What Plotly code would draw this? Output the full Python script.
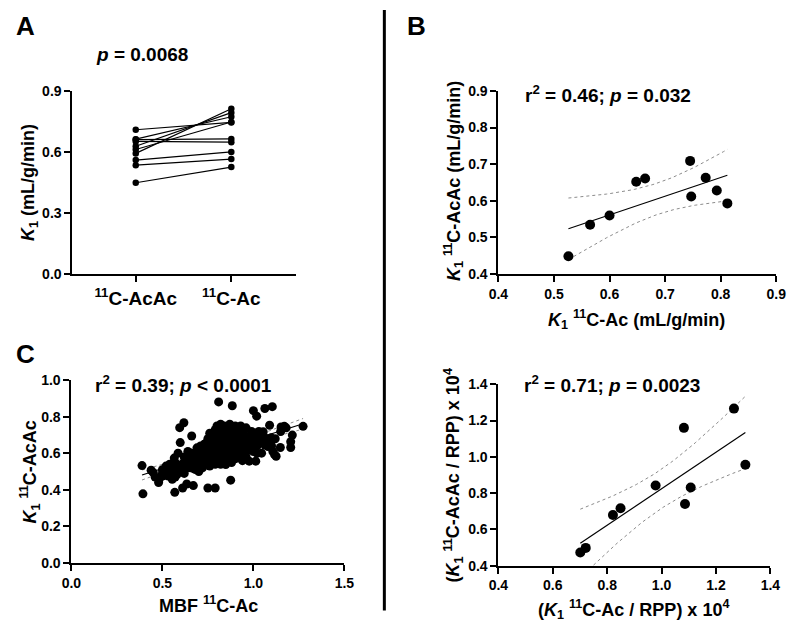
import numpy as np
import plotly.graph_objects as go

FONT = "Liberation Sans, Arial, sans-serif"
W, H = 796, 638

# panel A / B : paired K1 values (same 10 subjects)
k1_ac = [0.526, 0.565, 0.600, 0.648, 0.664, 0.745, 0.747, 0.773, 0.793, 0.812]
k1_acac = [0.449, 0.535, 0.560, 0.652, 0.661, 0.709, 0.612, 0.663, 0.628, 0.593]
cat_labels = ["<sup>11</sup>C-AcAc", "<sup>11</sup>C-Ac"]

# panel C : MBF 11C-Ac vs K1 11C-AcAc (all segments)
mbf_ac = [0.388, 0.393, 0.438, 0.450, 0.479, 0.482, 0.500, 0.518, 0.532, 0.536,
          0.554, 0.562, 0.565, 0.568, 0.581, 0.586, 0.589, 0.595, 0.598, 0.607,
          0.611, 0.616, 0.618, 0.634, 0.634, 0.643, 0.661, 0.661, 0.670, 0.670,
          0.679, 0.700, 0.705, 0.714, 0.732, 0.738, 0.750, 0.750, 0.768, 0.768,
          0.773, 0.786, 0.790, 0.809, 0.812, 0.820, 0.848, 0.875, 0.884, 1.000,
          1.018, 1.063, 1.104, 1.089, 1.152, 1.170, 1.273, 1.214, 1.205, 1.205,
          1.148, 1.116, 1.125, 1.107, 1.098, 1.045, 1.013, 0.977, 1.054, 1.071,
          1.027, 1.063, 1.080,
          0.46, 0.50, 0.53, 0.55, 0.57, 0.59, 0.60, 0.62, 0.63, 0.65,
          0.66, 0.68, 0.69, 0.72, 0.73, 0.74, 0.76, 0.77, 0.78, 0.79,
          0.80, 0.80, 0.81, 0.82, 0.82, 0.83, 0.83, 0.84, 0.84, 0.85,
          0.85, 0.86, 0.86, 0.87, 0.87, 0.88, 0.88, 0.89, 0.89, 0.90,
          0.90, 0.91, 0.91, 0.92, 0.92, 0.93, 0.93, 0.94, 0.94, 0.95,
          0.95, 0.96, 0.96, 0.97, 0.97, 0.98, 0.99, 0.99, 1.00, 1.01,
          1.02, 1.03, 1.04, 0.82, 0.85, 0.88, 0.80, 0.76, 0.73, 0.71,
          0.69, 0.75, 0.78, 0.80, 0.84, 0.87, 0.90, 0.93, 0.95, 0.86,
          0.83, 0.78, 0.81, 0.84, 0.87, 0.90, 0.92, 0.94, 0.96, 0.98,
          1.00, 1.02, 1.05, 1.08, 1.10, 1.12, 1.15, 1.18, 0.64, 0.62,
          0.66, 0.58, 0.56, 0.54, 0.52, 0.50, 0.70, 0.72, 0.74, 0.77,
          0.79, 0.76, 0.79, 0.82]
k1_acac_c = [0.533, 0.378, 0.507, 0.494, 0.440, 0.458, 0.476, 0.494, 0.476, 0.521,
             0.458, 0.515, 0.574, 0.386, 0.485, 0.601, 0.530, 0.741, 0.659, 0.503,
             0.410, 0.548, 0.768, 0.432, 0.574, 0.521, 0.695, 0.601, 0.423, 0.557,
             0.512, 0.614, 0.574, 0.530, 0.584, 0.655, 0.548, 0.410, 0.664, 0.593,
             0.705, 0.566, 0.410, 0.882, 0.593, 0.735, 0.539, 0.453, 0.861, 0.834,
             0.804, 0.846, 0.856, 0.754, 0.745, 0.748, 0.748, 0.700, 0.664, 0.632,
             0.632, 0.593, 0.584, 0.610, 0.685, 0.601, 0.557, 0.557, 0.718, 0.682,
             0.664, 0.646, 0.637,
             0.47, 0.51, 0.50, 0.49, 0.47, 0.50, 0.52, 0.49, 0.55, 0.54,
             0.58, 0.59, 0.55, 0.56, 0.61, 0.60, 0.62, 0.57, 0.64, 0.60,
             0.62, 0.68, 0.70, 0.63, 0.72, 0.66, 0.60, 0.58, 0.69, 0.64,
             0.72, 0.62, 0.67, 0.70, 0.58, 0.74, 0.65, 0.61, 0.69, 0.72,
             0.57, 0.66, 0.63, 0.74, 0.69, 0.60, 0.65, 0.72, 0.67, 0.62,
             0.70, 0.74, 0.58, 0.65, 0.69, 0.62, 0.72, 0.66, 0.61, 0.69,
             0.64, 0.72, 0.67, 0.54, 0.56, 0.55, 0.56, 0.53, 0.65, 0.64,
             0.63, 0.68, 0.70, 0.75, 0.75, 0.76, 0.75, 0.75, 0.73, 0.73,
             0.70, 0.67, 0.65, 0.61, 0.64, 0.61, 0.58, 0.56, 0.61, 0.68,
             0.64, 0.60, 0.70, 0.66, 0.64, 0.68, 0.72, 0.74, 0.61, 0.58,
             0.52, 0.54, 0.52, 0.54, 0.53, 0.49, 0.50, 0.52, 0.57, 0.59,
             0.54, 0.71, 0.73, 0.76]

# panel D : K1 normalised by rate-pressure product (x 10^4)
k1_ac_rpp = [0.701, 0.721, 0.821, 0.849, 0.978, 1.082, 1.086, 1.107, 1.266, 1.308]
k1_acac_rpp = [0.473, 0.498, 0.679, 0.717, 0.842, 1.160, 0.740, 0.831, 1.266, 0.956]


def fit_with_ci(x, y, t):
    x = np.asarray(x, float)
    y = np.asarray(y, float)
    m, b = np.polyfit(x, y, 1)
    n = len(x)
    s = np.sqrt(np.sum((y - (m * x + b)) ** 2) / (n - 2))
    xs = np.linspace(x.min(), x.max(), 80)
    se = s * np.sqrt(1 / n + (xs - x.mean()) ** 2 / np.sum((x - x.mean()) ** 2))
    yf = m * xs + b
    return xs, yf, yf - t * se, yf + t * se


def dx(p):
    return p / W


def dy(p):
    return 1 - p / H


fig = go.Figure()

# ---- A : paired lines
for a, c in zip(k1_acac, k1_ac):
    fig.add_trace(go.Scatter(x=[0, 1], y=[a, c], mode="lines+markers",
                             line=dict(color="black", width=1.2),
                             marker=dict(color="black", size=6.5),
                             cliponaxis=False, showlegend=False, hoverinfo="skip",
                             xaxis="x", yaxis="y"))


def scatter_panel(x, y, t, xa, ya, size):
    xs, yf, lo, hi = fit_with_ci(x, y, t)
    for yy, dash, col in [(lo, "dot", "#8c8c8c"), (hi, "dot", "#8c8c8c"), (yf, "solid", "black")]:
        fig.add_trace(go.Scatter(x=xs, y=yy, mode="lines",
                                 line=dict(color=col, width=1.2 if dash == "solid" else 1, dash=dash),
                                 showlegend=False, hoverinfo="skip", xaxis=xa, yaxis=ya))
    fig.add_trace(go.Scatter(x=x, y=y, mode="markers",
                             marker=dict(color="black", size=size),
                             cliponaxis=False, showlegend=False, hoverinfo="skip",
                             xaxis=xa, yaxis=ya))


scatter_panel(k1_ac, k1_acac, 2.306, "x2", "y2", 10)
scatter_panel(mbf_ac, k1_acac_c, 1.97, "x3", "y3", 9)
scatter_panel(k1_ac_rpp, k1_acac_rpp, 2.306, "x4", "y4", 10)

tickfont = dict(family=FONT, size=14, color="black", weight="bold")
ax = dict(showline=True, linecolor="black", linewidth=2, ticks="outside",
          ticklen=6, tickwidth=2, tickcolor="black", showgrid=False,
          zeroline=False, tickfont=tickfont)

fig.update_layout(
    width=W, height=H, margin=dict(l=0, r=0, t=0, b=0),
    plot_bgcolor="white", paper_bgcolor="white", showlegend=False,
    xaxis=dict(ax, domain=[dx(64), dx(293)], range=[-0.663, 1.673],
               tickvals=[0, 1], ticktext=cat_labels,
               tickfont=dict(tickfont, size=19), anchor="y"),
    yaxis=dict(ax, domain=[dy(273), dy(85)], range=[0, 0.9],
               tickvals=[0, 0.3, 0.6, 0.9], tickformat=".1f", anchor="x"),
    xaxis2=dict(ax, domain=[dx(501), dx(786)], range=[0.4, 0.9], dtick=0.1,
                tickformat=".1f", anchor="y2"),
    yaxis2=dict(ax, domain=[dy(273), dy(85)], range=[0.4, 0.9], dtick=0.1,
                tickformat=".1f", anchor="x2"),
    xaxis3=dict(ax, domain=[dx(63), dx(343)], range=[0, 1.5], dtick=0.5,
                tickformat=".1f", anchor="y3"),
    yaxis3=dict(ax, domain=[dy(569), dy(382)], range=[0, 1.0], dtick=0.2,
                tickformat=".1f", anchor="x3"),
    xaxis4=dict(ax, domain=[dx(501), dx(780)], range=[0.4, 1.4], dtick=0.2,
                tickformat=".1f", anchor="y4"),
    yaxis4=dict(ax, domain=[dy(572), dy(386)], range=[0.4, 1.4], dtick=0.2,
                tickformat=".1f", anchor="x4"),
)

# divider between left and right columns
fig.add_shape(type="line", xref="paper", yref="paper",
              x0=dx(384), x1=dx(384), y0=dy(2), y1=dy(618),
              line=dict(color="black", width=3))


def note(text, x, y, size=18, angle=0, xanchor="center"):
    fig.add_annotation(text=text, xref="paper", yref="paper", x=dx(x), y=dy(y),
                       showarrow=False, textangle=angle, xanchor=xanchor, yanchor="middle",
                       font=dict(family=FONT, size=size, color="black", weight="bold"))


K1 = "<i>K</i><sub>1</sub>"
note("A", 4, 18, size=26, xanchor="left")
note("B", 405, 18, size=26, xanchor="left")
note("C", 4, 355, size=26, xanchor="left")

note("<i>p</i> = 0.0068", 135, 48, size=19)
note("r<sup>2</sup> = 0.46; <i>p</i> = 0.032", 613, 88, size=19)
note("r<sup>2</sup> = 0.39; <i>p</i> &lt; 0.0001", 178, 386, size=19)
note("r<sup>2</sup> = 0.71; <i>p</i> = 0.0023", 618, 386, size=19)

note(K1 + " (mL/g/min)", 20, 179, angle=-90)
note(K1 + " <sup>11</sup>C-AcAc (mL/g/min)", 455, 178, angle=-90)
note(K1 + " <sup>11</sup>C-Ac (mL/g/min)", 643, 320)
note(K1 + " <sup>11</sup>C-AcAc", 20, 476, angle=-90)
note("MBF <sup>11</sup>C-Ac", 204, 612)
note("(" + K1 + " <sup>11</sup>C-AcAc / RPP) x 10<sup>4</sup>", 455, 480, angle=-90)
note("(" + K1 + " <sup>11</sup>C-Ac / RPP) x 10<sup>4</sup>", 640, 617)

# page body has a default 8px margin; drop it so the figure fills the window
fig.write_html("out.html", config={"displayModeBar": False},
               post_script="document.body.style.margin='0';")
